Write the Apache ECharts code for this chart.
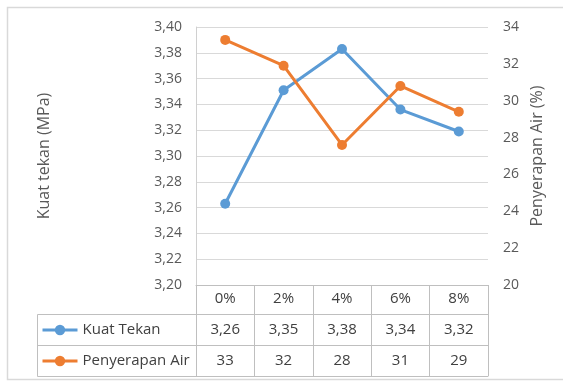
<!DOCTYPE html>
<html>
<head>
<meta charset="utf-8">
<script src="https://cdn.jsdelivr.net/npm/echarts@6/dist/echarts.min.js"></script>
<style>
  html, body { margin: 0; padding: 0; background: #fff; }
  #chart { width: 563px; height: 383px; }
</style>
</head>
<body>
<div id="chart"></div>
<script>
// Percentage of additive in the mix
const categories = ['0%', '2%', '4%', '6%', '8%'];
// Compressive strength (MPa), left axis
const kuatTekan = [3.263, 3.351, 3.383, 3.336, 3.319];
// Water absorption (%), right axis
const penyerapanAir = [33.3, 31.9, 27.6, 30.8, 29.4];

const seriesNames = ['Kuat Tekan', 'Penyerapan Air'];
const leftTicks = { min: 3.2, max: 3.4, interval: 0.02 };
const rightTicks = { min: 20, max: 34, interval: 2 };

const BLUE = '#5b9bd5';
const ORANGE = '#ed7d31';
const TEXT = '#595959';
const TABLE_LINE = '#bfbfbf';
const FONT = '"Open Sans", "Noto Sans", sans-serif';

const W = 563, H = 383;
const GRID = { left: 196, right: 75, top: 27, bottom: 98 };
const ROW_H = [29, 31, 31];           // header row, then one row per series
const plotBottom = H - GRID.bottom;
const rowTop = [plotBottom, plotBottom + ROW_H[0], plotBottom + ROW_H[0] + ROW_H[1]];
const tableBottom = rowTop[2] + ROW_H[2];
const tableLeft = 37;

const fmtKuat = v => v.toFixed(2).replace('.', ',');
const fmtAir = v => v.toFixed(0);

const chart = echarts.init(document.getElementById('chart'), null, { renderer: 'canvas' });

// One category axis per table row: labels hold the cell text, ticks draw the column rules
function tableAxis(offset, tickLen, formatter, margin, fontSize) {
  return {
    type: 'category',
    data: categories,
    position: 'bottom',
    offset: offset,
    boundaryGap: true,
    axisLine: { show: true, lineStyle: { color: TABLE_LINE, width: 1 } },
    axisTick: { show: tickLen > 0, length: tickLen, lineStyle: { color: TABLE_LINE, width: 1 } },
    axisLabel: {
      show: !!formatter,
      formatter: formatter,
      margin: margin,
      color: '#404040',
      fontFamily: FONT,
      fontSize: fontSize,
      lineHeight: 16
    },
    splitLine: { show: false }
  };
}

const option = {
  backgroundColor: '#fff',
  animation: false,
  textStyle: { fontFamily: FONT },
  grid: { left: GRID.left, right: GRID.right, top: GRID.top, bottom: GRID.bottom, containLabel: false },
  legend: {
    data: seriesNames,
    orient: 'vertical',
    left: 41,
    top: rowTop[1] + 6,
    padding: 0,
    itemGap: 11,
    itemWidth: 35,
    itemHeight: 13,
    lineStyle: { width: 3 },
    textStyle: { color: '#404040', fontSize: 15, fontFamily: FONT, lineHeight: 20 }
  },
  xAxis: [
    tableAxis(0, ROW_H[0], (v) => v, 6, 15),
    tableAxis(ROW_H[0], ROW_H[1], (v, i) => fmtKuat(kuatTekan[i]), 8, 15),
    tableAxis(ROW_H[0] + ROW_H[1], ROW_H[2], (v, i) => fmtAir(penyerapanAir[i]), 8, 15),
    tableAxis(ROW_H[0] + ROW_H[1] + ROW_H[2], 0, null, 0, 15)
  ],
  yAxis: [
    {
      type: 'value',
      position: 'left',
      min: leftTicks.min,
      max: leftTicks.max,
      interval: leftTicks.interval,
      name: 'Kuat tekan (MPa)',
      nameLocation: 'middle',
      nameRotate: 90,
      nameGap: 144,
      nameTextStyle: { color: TEXT, fontSize: 16, fontFamily: FONT },
      axisLine: { show: true, lineStyle: { color: '#d0d0d0' } },
      axisTick: { show: false },
      axisLabel: {
        color: TEXT, fontSize: 14, fontFamily: FONT, margin: 14,
        formatter: v => fmtKuat(v)
      },
      splitLine: { show: true, lineStyle: { color: '#d9d9d9', width: 1 } }
    },
    {
      type: 'value',
      position: 'right',
      min: rightTicks.min,
      max: rightTicks.max,
      interval: rightTicks.interval,
      name: 'Penyerapan Air (%)',
      nameLocation: 'middle',
      nameRotate: 90,
      nameGap: 40,
      nameTextStyle: { color: TEXT, fontSize: 16, fontFamily: FONT },
      axisLine: { show: false },
      axisTick: { show: false },
      axisLabel: { color: TEXT, fontSize: 14, fontFamily: FONT, margin: 15 },
      splitLine: { show: false }
    }
  ],
  series: [
    {
      name: seriesNames[0],
      type: 'line',
      xAxisIndex: 0,
      yAxisIndex: 0,
      data: kuatTekan,
      symbol: 'circle',
      symbolSize: 10,
      lineStyle: { color: BLUE, width: 3 },
      itemStyle: { color: BLUE }
    },
    {
      name: seriesNames[1],
      type: 'line',
      xAxisIndex: 0,
      yAxisIndex: 1,
      data: penyerapanAir,
      symbol: 'circle',
      symbolSize: 10,
      lineStyle: { color: ORANGE, width: 3 },
      itemStyle: { color: ORANGE }
    }
  ],
  graphic: [
    // outer chart-area frame
    {
      type: 'rect', silent: true, z: -1,
      shape: { x: 7.5, y: 7.5, width: 600, height: 372 },
      style: { fill: 'none', stroke: '#d9d9d9', lineWidth: 1.5 }
    },
    // legend-key cells of the data table
    {
      type: 'group', silent: true,
      children: [
        { type: 'line', shape: { x1: tableLeft + 0.5, y1: rowTop[1] + 0.5, x2: GRID.left, y2: rowTop[1] + 0.5 }, style: { stroke: TABLE_LINE, lineWidth: 1 } },
        { type: 'line', shape: { x1: tableLeft + 0.5, y1: rowTop[2] + 0.5, x2: GRID.left, y2: rowTop[2] + 0.5 }, style: { stroke: TABLE_LINE, lineWidth: 1 } },
        { type: 'line', shape: { x1: tableLeft + 0.5, y1: tableBottom + 0.5, x2: GRID.left, y2: tableBottom + 0.5 }, style: { stroke: TABLE_LINE, lineWidth: 1 } },
        { type: 'line', shape: { x1: tableLeft + 0.5, y1: rowTop[1] + 0.5, x2: tableLeft + 0.5, y2: tableBottom + 0.5 }, style: { stroke: TABLE_LINE, lineWidth: 1 } }
      ]
    }
  ]
};

chart.setOption(option);
</script>
</body>
</html>
